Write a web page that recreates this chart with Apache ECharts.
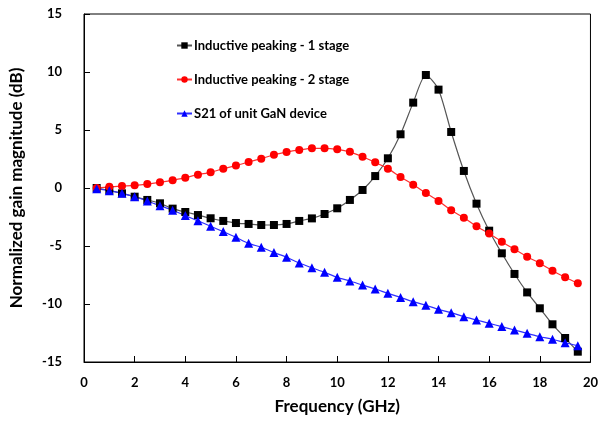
<!DOCTYPE html>
<html><head><meta charset="utf-8">
<script src="https://cdn.jsdelivr.net/npm/echarts@6/dist/echarts.min.js"></script>
<style>html,body{margin:0;padding:0;background:#fff}#c{width:601px;height:429px}</style>
</head><body><div id="c"></div>
<script>
const freq = [0.5,1,1.5,2,2.5,3,3.5,4,4.5,5,5.5,6,6.5,7,7.5,8,8.5,9,9.5,10,10.5,11,11.5,12,12.5,13,13.5,14,14.5,15,15.5,16,16.5,17,17.5,18,18.5,19,19.5];
const stage1 = [0.0,-0.2,-0.46,-0.75,-1.03,-1.32,-1.78,-2.07,-2.33,-2.61,-2.84,-3.02,-3.1,-3.19,-3.19,-3.1,-2.84,-2.62,-2.24,-1.75,-1.03,-0.17,1.03,2.56,4.63,7.36,9.74,8.48,4.83,1.47,-1.35,-3.68,-5.63,-7.41,-9.0,-10.37,-11.75,-12.93,-14.11];
const stage2 = [0.0,0.1,0.17,0.23,0.34,0.49,0.66,0.89,1.15,1.35,1.67,1.93,2.24,2.53,2.87,3.1,3.28,3.42,3.42,3.33,3.12,2.7,2.21,1.67,0.95,0.29,-0.43,-1.12,-1.92,-2.56,-3.29,-3.93,-4.63,-5.28,-5.92,-6.49,-7.13,-7.7,-8.22];
const s21 = [-0.06,-0.23,-0.46,-0.75,-1.12,-1.52,-1.92,-2.38,-2.83,-3.3,-3.76,-4.25,-4.77,-5.11,-5.57,-5.97,-6.47,-6.88,-7.27,-7.7,-8.02,-8.37,-8.71,-9.08,-9.43,-9.8,-10.11,-10.46,-10.75,-11.09,-11.38,-11.67,-11.95,-12.24,-12.53,-12.82,-13.04,-13.34,-13.59];
const xTicks = {min:0, max:20, step:2};
const yTicks = {min:-15, max:15, step:5};
const names = ['Inductive peaking - 1 stage','Inductive peaking - 2 stage','S21 of unit GaN device'];

const F = 'Lato, "Open Sans", sans-serif';
const pair = (ys) => freq.map((f,i)=>[f, ys[i]]);
const chart = echarts.init(document.getElementById('c'), null, {renderer:'canvas'});
chart.setOption({
  animation:false,
  backgroundColor:'#fff',
  grid:{left:78, right:10, top:14, bottom:67, show:true, borderColor:'#000', borderWidth:1},
  legend:{
    orient:'vertical', left:171, top:34, itemGap:21, itemWidth:15, itemHeight:8,
    textStyle:{fontFamily:F, fontWeight:'bold', fontSize:13, color:'#000', padding:[0,0,0,-3]},
    data:names
  },
  xAxis:{
    type:'value', min:xTicks.min, max:xTicks.max, interval:xTicks.step,
    name:'Frequency (GHz)', nameLocation:'middle', nameGap:36,
    nameTextStyle:{fontFamily:F, fontWeight:'bold', fontSize:17, color:'#000'},
    axisLine:{onZero:false, lineStyle:{color:'#000'}},
    axisTick:{inside:true, length:6, lineStyle:{color:'#000'}},
    axisLabel:{fontFamily:F, fontWeight:'bold', fontSize:13, color:'#000', margin:14},
    splitLine:{show:false}
  },
  yAxis:{
    type:'value', min:yTicks.min, max:yTicks.max, interval:yTicks.step,
    name:'Normalized gain magnitude (dB)', nameLocation:'middle', nameGap:59,
    nameTextStyle:{fontFamily:F, fontWeight:'bold', fontSize:17, color:'#000'},
    axisLine:{show:true, onZero:false, lineStyle:{color:'#000'}},
    axisTick:{show:true, inside:true, length:6, lineStyle:{color:'#000'}},
    axisLabel:{fontFamily:F, fontWeight:'bold', fontSize:13, color:'#000', margin:22},
    splitLine:{show:false}
  },
  series:[
    {name:names[0], type:'line', data:pair(stage1), smooth:0.25, symbol:'rect', symbolSize:8,
     itemStyle:{color:'#000'}, lineStyle:{color:'#555', width:1.2}},
    {name:names[1], type:'line', data:pair(stage2), smooth:0.25, symbol:'circle', symbolSize:8,
     itemStyle:{color:'#ff0000'}, lineStyle:{color:'#ff3030', width:1.2}},
    {name:names[2], type:'line', data:pair(s21), smooth:0.25, symbol:'triangle', symbolSize:9,
     itemStyle:{color:'#0000ff'}, lineStyle:{color:'#3030ff', width:1.2}}
  ]
});
</script></body></html>
